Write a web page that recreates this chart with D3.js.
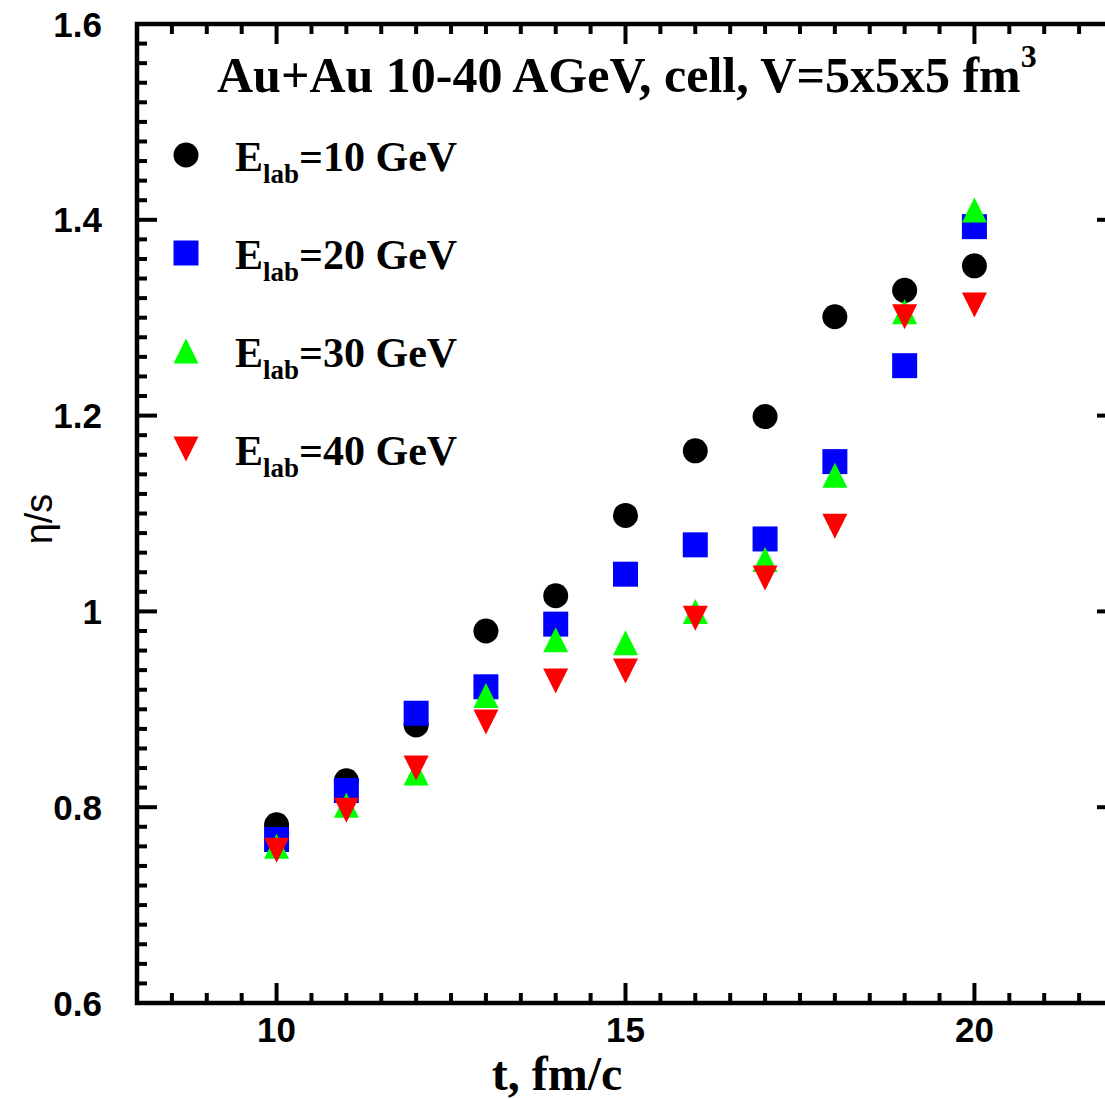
<!DOCTYPE html>
<html>
<head>
<meta charset="utf-8">
<script src="https://cdn.jsdelivr.net/npm/d3@7"></script>
<style>
  html, body { margin: 0; padding: 0; background: #fff; overflow: hidden; }
  svg { display: block; }
</style>
</head>
<body>
<svg id="chart" width="1105" height="1099"></svg>
<script>
// Time steps (fm/c)
const times = [10, 11, 12, 13, 14, 15, 16, 17, 18, 19, 20];

// Shear viscosity to entropy ratio for each beam energy
const eta10 = [0.782, 0.827, 0.884, 0.980, 1.016, 1.098, 1.164, 1.199, 1.301, 1.328, 1.353];
const eta20 = [0.767, 0.817, 0.896, 0.923, 0.987, 1.038, 1.068, 1.074, 1.153, 1.251, 1.393];
const eta30 = [0.760, 0.802, 0.835, 0.914, 0.971, 0.968, 1.000, 1.053, 1.139, 1.306, 1.410];
const eta40 = [0.756, 0.797, 0.840, 0.887, 0.929, 0.939, 0.993, 1.034, 1.087, 1.301, 1.313];

const energies = ["10", "20", "30", "40"];
const markerKinds = ["circle", "square", "triangleUp", "triangleDown"];
const markerColors = ["#000000", "#0000ff", "#00ff00", "#ff0000"];

const xTickValues = [10, 15, 20];
const yTickValues = [0.6, 0.8, 1.0, 1.2, 1.4, 1.6];
const yTickLabels = ["0.6", "0.8", "1", "1.2", "1.4", "1.6"];

const series = [eta10, eta20, eta30, eta40].map((vals, i) => ({
  energy: energies[i],
  kind: markerKinds[i],
  color: markerColors[i],
  points: times.map((t, j) => ({ t, v: vals[j] }))
}));

const svg = d3.select("#chart");

const frame = { left: 137, right: 1114, top: 24, bottom: 1003 };
const x = d3.scaleLinear().domain([8, 22]).range([frame.left, frame.right]);
const y = d3.scaleLinear().domain([0.6, 1.6]).range([frame.bottom, frame.top]);

const sansBold = "'Liberation Sans', Arial, sans-serif";
const serif = "'Liberation Serif', 'Times New Roman', serif";

// Marker path generator, centred on (0,0)
function markerPath(kind, s) {
  const p = d3.path();
  const h = s / 2;
  if (kind === "circle") {
    p.arc(0, 0, h, 0, 2 * Math.PI);
  } else if (kind === "square") {
    p.rect(-h, -h, s, s);
  } else if (kind === "triangleUp") {
    p.moveTo(0, -h); p.lineTo(h, h); p.lineTo(-h, h); p.closePath();
  } else {
    p.moveTo(-h, -h); p.lineTo(h, -h); p.lineTo(0, h); p.closePath();
  }
  return p.toString();
}
const markerSize = 25;

// Minor ticks
const xMinor = d3.range(8, 22.001, 0.5).filter(v => Math.abs(v % 5) > 1e-6);
const yMinor = d3.range(0.6, 1.6001, 0.02).filter(v => yTickValues.every(m => Math.abs(m - v) > 1e-6));

const tickG = svg.append("g").attr("stroke", "#000").attr("stroke-width", 4);
const majorLen = 20, minorLen = 10;

// bottom & top
xTickValues.forEach(v => {
  tickG.append("line").attr("x1", x(v)).attr("x2", x(v)).attr("y1", frame.bottom).attr("y2", frame.bottom - majorLen);
  tickG.append("line").attr("x1", x(v)).attr("x2", x(v)).attr("y1", frame.top).attr("y2", frame.top + majorLen);
});
xMinor.forEach(v => {
  tickG.append("line").attr("x1", x(v)).attr("x2", x(v)).attr("y1", frame.bottom).attr("y2", frame.bottom - minorLen);
  tickG.append("line").attr("x1", x(v)).attr("x2", x(v)).attr("y1", frame.top).attr("y2", frame.top + minorLen);
});
// left & right
yTickValues.forEach(v => {
  tickG.append("line").attr("x1", frame.left).attr("x2", frame.left + majorLen).attr("y1", y(v)).attr("y2", y(v));
  tickG.append("line").attr("x1", frame.right).attr("x2", frame.right - 17).attr("y1", y(v)).attr("y2", y(v));
});
yMinor.forEach(v => {
  tickG.append("line").attr("x1", frame.left).attr("x2", frame.left + minorLen).attr("y1", y(v)).attr("y2", y(v));
  tickG.append("line").attr("x1", frame.right).attr("x2", frame.right - 8).attr("y1", y(v)).attr("y2", y(v));
});

// Frame
svg.append("rect")
  .attr("x", frame.left).attr("y", frame.top)
  .attr("width", frame.right - frame.left).attr("height", frame.bottom - frame.top)
  .attr("fill", "none").attr("stroke", "#000").attr("stroke-width", 4.5);

// Tick labels
svg.append("g").selectAll("text").data(xTickValues).join("text")
  .attr("x", d => x(d)).attr("y", 1042)
  .attr("text-anchor", "middle")
  .attr("font-family", sansBold).attr("font-weight", "bold").attr("font-size", 35)
  .text(d => d);

svg.append("g").selectAll("text").data(yTickValues).join("text")
  .attr("x", 102).attr("y", d => y(d) + 12.5)
  .attr("text-anchor", "end")
  .attr("font-family", sansBold).attr("font-weight", "bold").attr("font-size", 35)
  .text((d, i) => yTickLabels[i]);

// Axis titles
svg.append("text")
  .attr("x", 557).attr("y", 1090)
  .attr("text-anchor", "middle")
  .attr("font-family", serif).attr("font-weight", "bold").attr("font-size", 48)
  .text("t, fm/c");

svg.append("text")
  .attr("transform", "translate(52,519) rotate(-90)")
  .attr("text-anchor", "middle")
  .attr("font-family", sansBold).attr("font-size", 38)
  .text("η/s");

// Title
const title = svg.append("text")
  .attr("x", 217).attr("y", 92)
  .attr("font-family", serif).attr("font-weight", "bold").attr("font-size", 50);
title.append("tspan").text("Au+Au 10-40 AGeV, cell, V=5x5x5 fm");
title.append("tspan").attr("dy", -25).attr("font-size", 32).text("3");

// Data markers
const plotG = svg.append("g");
series.forEach(s => {
  plotG.append("g").selectAll("path").data(s.points).join("path")
    .attr("transform", d => `translate(${x(d.t)},${y(d.v)})`)
    .attr("d", markerPath(s.kind, markerSize))
    .attr("fill", s.color);
});

// Legend
const legendBaselines = [171, 269, 367, 465];
series.forEach((s, i) => {
  const by = legendBaselines[i];
  svg.append("path")
    .attr("transform", `translate(186,${by - 16})`)
    .attr("d", markerPath(s.kind, markerSize))
    .attr("fill", s.color);
  const t = svg.append("text")
    .attr("x", 235).attr("y", by)
    .attr("font-family", serif).attr("font-weight", "bold").attr("font-size", 42);
  t.append("tspan").text("E");
  t.append("tspan").attr("dy", 12).attr("font-size", 27).text("lab");
  t.append("tspan").attr("dy", -12).text(`=${s.energy} GeV`);
});
</script>
</body>
</html>
